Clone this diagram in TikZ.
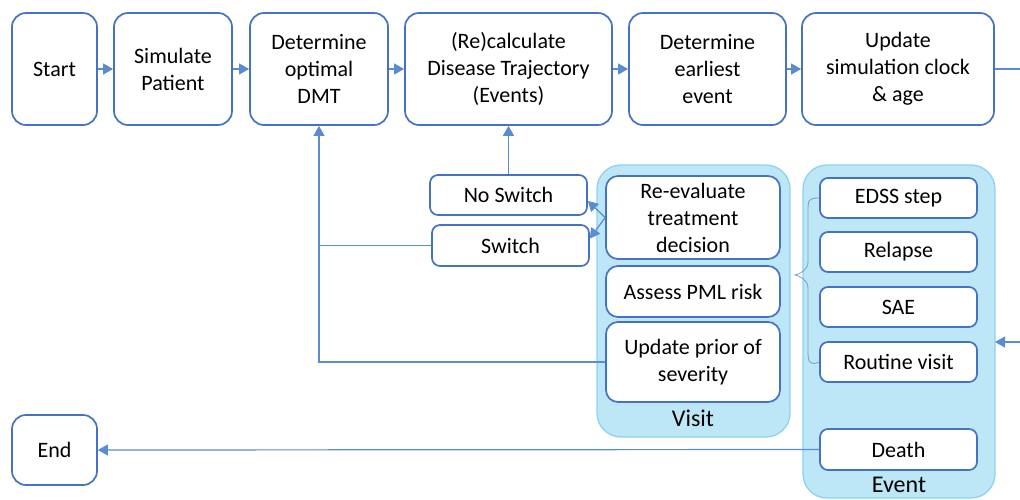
\documentclass[tikz,border=0pt]{standalone}
\usepackage{fontspec}
\setmainfont{Carlito}
\usetikzlibrary{arrows.meta}
\definecolor{boxblue}{HTML}{4472C4}
\definecolor{lineblue}{HTML}{5B8BD0}
\definecolor{contfill}{HTML}{BDE6F6}
\definecolor{contdraw}{HTML}{8DD3F0}
\definecolor{bracecol}{HTML}{7F9CC0}
\tikzset{
  bigbox/.style={draw=boxblue, line width=1.7pt, rounded corners=14pt, fill=white, align=center, font=\fontsize{22}{27}\selectfont, inner sep=0pt},
  smallbox/.style={draw=boxblue, line width=1.7pt, rounded corners=8pt, fill=white, align=center, font=\fontsize{22}{27}\selectfont, inner sep=0pt},
  container/.style={draw=contdraw, line width=1.3pt, fill=contfill, rounded corners=24pt},
  conn/.style={draw=lineblue, line width=1.2pt},
  arr/.style={conn, -{Triangle[length=10pt,width=11pt]}},
  lbl/.style={font=\fontsize{24}{28}\selectfont, inner sep=0pt}
}
\begin{document}
\begin{tikzpicture}[x=1pt,y=-1pt]
\useasboundingbox (0,0) rectangle (1020,499);
% containers
\draw[container] (597,165) rectangle (790,437);
\draw[container] (803,165) rectangle (995,498);
\node[lbl] (visitlbl) at (693,418) {Visit};
\node[lbl] (eventlbl) at (899,485) {Event};
% top row
\node[bigbox, minimum width=85pt, minimum height=112pt] (start) at (54.5,69) {Start};
\node[bigbox, minimum width=118pt, minimum height=112pt] (sim) at (173,69) {Simulate\\Patient};
\node[bigbox, minimum width=138pt, minimum height=112pt] (dmt) at (319,69) {Determine\\optimal\\DMT};
\node[bigbox, minimum width=207pt, minimum height=112pt] (recalc) at (508.5,69) {(Re)calculate\\Disease Trajectory\\(Events)};
\node[bigbox, minimum width=157pt, minimum height=112pt] (earliest) at (707.5,69) {Determine\\earliest\\event};
\node[bigbox, minimum width=192pt, minimum height=112pt] (clock) at (898,69) {Update\\simulation clock\\\& age};
% visit boxes
\node[bigbox, rounded corners=12pt, minimum width=174pt, minimum height=83pt] (reeval) at (693,217.5) {Re-evaluate\\treatment\\decision};
\node[bigbox, rounded corners=12pt, minimum width=174pt, minimum height=51pt] (pml) at (693,291.5) {Assess PML risk};
\node[bigbox, rounded corners=12pt, minimum width=174pt, minimum height=80pt] (prior) at (693,362) {Update prior of\\severity};
% switch boxes
\node[smallbox, minimum width=157pt, minimum height=40pt] (noswitch) at (508.5,195) {No Switch};
\node[smallbox, minimum width=157pt, minimum height=41pt] (switch) at (510.5,245.5) {Switch};
% event boxes
\node[smallbox, minimum width=157pt, minimum height=40pt] (edss) at (898.5,198) {EDSS step};
\node[smallbox, minimum width=157pt, minimum height=40pt] (relapse) at (898.5,252) {Relapse};
\node[smallbox, minimum width=157pt, minimum height=40pt] (sae) at (898.5,307) {SAE};
\node[smallbox, minimum width=157pt, minimum height=40pt] (routine) at (898.5,362) {Routine visit};
\node[smallbox, minimum width=157pt, minimum height=41pt] (death) at (898.5,449.5) {Death};
% end
\node[bigbox, minimum width=85pt, minimum height=70pt] (end) at (54.5,450) {End};
% top row arrows
\draw[arr] (start) -- (sim);
\draw[arr] (sim) -- (dmt);
\draw[arr] (dmt) -- (recalc);
\draw[arr] (recalc) -- (earliest);
\draw[arr] (earliest) -- (clock);
% loop back to events
\coordinate (rtop) at (1023,69);
\coordinate (rbot) at (1023,342);
\draw[conn] (clock.east) -- (rtop) -- (rbot);
\draw[arr] (rbot) -- (rbot -| {(995,0)});
% no switch -> recalc
\draw[arr] (noswitch.north) -- (recalc.south -| noswitch.north);
% reeval -> switch boxes
\draw[arr] (reeval.west) -- ([yshift=-6pt]noswitch.east);
\draw[arr] (reeval.west) -- ([yshift=7pt]switch.east);
% switch and prior -> dmt
\draw[conn] (switch.west) -- (switch.west -| dmt.south);
\draw[arr] (prior.west) -- (prior.west -| dmt.south) -- (dmt.south);
% death -> end
\draw[arr] (death.west) -- (end.east);
% brace
\draw[bracecol, line width=0.8pt] (edss.west) .. controls (808,198) and (808,200) .. (808,212)
  -- (808,262) .. controls (808,270) and (800,274) .. (795,275)
  .. controls (800,276) and (808,280) .. (808,288)
  -- (808,352) .. controls (808,362) and (810,366) .. (routine.west);
\end{tikzpicture}
\end{document}
